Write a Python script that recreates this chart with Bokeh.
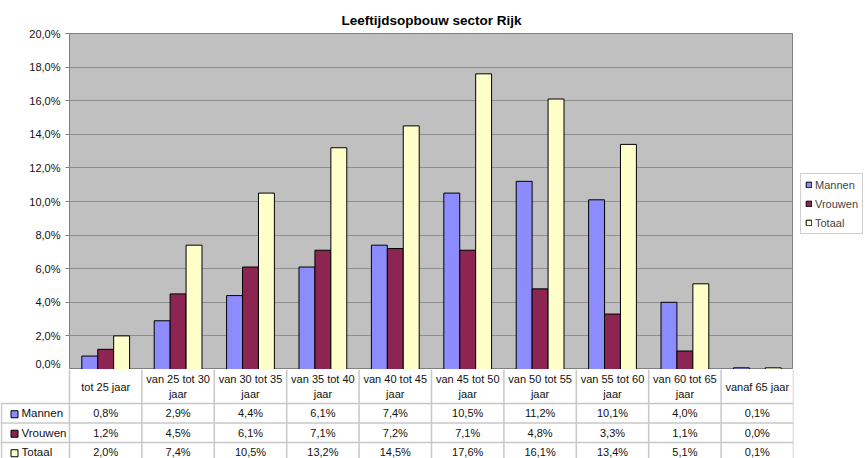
from bokeh.plotting import figure
from bokeh.models import ColumnDataSource, FactorRange, Range1d, Legend, LegendItem
from bokeh.transform import dodge
from bokeh.layouts import row
from bokeh.embed import file_html
from bokeh.resources import INLINE
from bokeh.core.properties import value

# ---------------- data ----------------
categories = ["tot 25 jaar", "van 25 tot 30\njaar", "van 30 tot 35\njaar",
              "van 35 tot 40\njaar", "van 40 tot 45\njaar", "van 45 tot 50\njaar",
              "van 50 tot 55\njaar", "van 55 tot 60\njaar", "van 60 tot 65\njaar",
              "vanaf 65 jaar"]
series_names = ["Mannen", "Vrouwen", "Totaal"]
mannen = [0.8, 2.9, 4.4, 6.1, 7.4, 10.5, 11.2, 10.1, 4.0, 0.1]
vrouwen = [1.2, 4.5, 6.1, 7.1, 7.2, 7.1, 4.8, 3.3, 1.1, 0.0]
totaal = [2.0, 7.4, 10.5, 13.2, 14.5, 17.6, 16.1, 13.4, 5.1, 0.1]
y_ticks = [0, 2, 4, 6, 8, 10, 12, 14, 16, 18, 20]
title_text = "Leeftijdsopbouw sector Rijk"

colors = ["#8C8CFF", "#8D2553", "#FFFFCA"]
FONT = "Liberation Sans"


def pct(v):
    return f"{v:.1f}".replace(".", ",") + "%"


# ---------------- layout constants ----------------
LEFT = 69          # label column / y-axis area width
FRAME_W = 724
RIGHT = 72
CHART_TOP = 33
CHART_H = 336
HEADER_H = 34
ROW_H = 19.5
TABLE_H = 89
CAT_PX = FRAME_W / len(categories)

source = ColumnDataSource(dict(cat=categories, Mannen=mannen, Vrouwen=vrouwen, Totaal=totaal))

# ---------------- chart ----------------
p = figure(width=LEFT + FRAME_W, height=CHART_TOP + CHART_H,
           x_range=FactorRange(*categories), y_range=Range1d(0, 20),
           x_axis_location=None, output_backend="svg", toolbar_location=None,
           min_border_left=LEFT, min_border_right=0,
           min_border_top=CHART_TOP, min_border_bottom=0,
           background_fill_color="#C0C0C0", border_fill_color="white",
           outline_line_color="#808080", title=title_text)
p.title.align = "center"
p.title.text_font = FONT
p.title.text_font_size = "13.5px"
p.title.text_font_style = "bold"
p.title.text_color = "black"
p.title.standoff = 11

offsets = [-0.22, 0.0, 0.22]
for name, off, col in zip(series_names, offsets, colors):
    p.vbar(x=dodge("cat", off, range=p.x_range), top=name, width=0.22,
           source=source, fill_color=col, line_color="black", line_width=1)

p.xgrid.visible = False
p.ygrid.grid_line_color = "#8E8E8E"
p.ygrid.grid_line_width = 1
p.yaxis.ticker = y_ticks
p.yaxis.major_label_overrides = {t: pct(t) for t in y_ticks}
p.yaxis.axis_line_color = "#808080"
p.yaxis.major_tick_line_color = "#808080"
p.yaxis.major_tick_out = 4
p.yaxis.major_tick_in = 0
p.yaxis.minor_tick_line_color = None
p.yaxis.major_label_text_font = FONT
p.yaxis.major_label_text_font_size = "11px"
p.yaxis.major_label_text_color = "#111111"
p.yaxis.major_label_standoff = 5

# ---------------- legend panel ----------------
lf = figure(width=RIGHT, height=CHART_TOP + CHART_H, x_range=Range1d(0, 1), y_range=Range1d(0, 1),
            x_axis_location=None, y_axis_location=None, output_backend="svg",
            toolbar_location=None, min_border_left=0, min_border_right=0,
            min_border_top=0, min_border_bottom=0, outline_line_color=None)
lf.grid.visible = False
# legend proxies: one point each, placed outside the visible range
leg_renderers = [lf.vbar(x=[5], top=[5], bottom=[4], width=0.2, fill_color=col, line_color="black")
                 for col in colors]
legend = Legend(items=[LegendItem(label=n, renderers=[r]) for n, r in zip(series_names, leg_renderers)],
                location=(7, 135),
                label_text_font=FONT, label_text_font_size="11px",
                glyph_width=7, glyph_height=7, label_standoff=3,
                label_height=13, spacing=6, padding=4, margin=0,
                border_line_color="#A0A0A0", background_fill_color="white",
                background_fill_alpha=1.0)
lf.add_layout(legend, "center")

# ---------------- data table ----------------
x0 = -LEFT / CAT_PX
t = figure(width=LEFT + FRAME_W + RIGHT, height=TABLE_H,
           x_range=Range1d(x0, len(categories)), y_range=Range1d(TABLE_H, 0),
           x_axis_location=None, y_axis_location=None,
           output_backend="svg", toolbar_location=None,
           min_border_left=0, min_border_right=RIGHT, min_border_top=0, min_border_bottom=0,
           outline_line_color=None, background_fill_color="white")
t.grid.visible = False

grid_col = "#C8C8C8"
n = len(categories)
# vertical separators
t.segment(x0=list(range(n + 1)), y0=[0] * (n + 1), x1=list(range(n + 1)), y1=[TABLE_H] * (n + 1),
          line_color=grid_col, line_width=1.5)
t.segment(x0=[x0 + 1 / CAT_PX], y0=[HEADER_H], x1=[x0 + 1 / CAT_PX], y1=[TABLE_H],
          line_color=grid_col, line_width=1.5)
# horizontal separators
hy = [HEADER_H + k * ROW_H for k in range(3)]
t.segment(x0=[x0] * 3, y0=hy, x1=[n] * 3, y1=hy, line_color=grid_col, line_width=1.5)

centers = [i + 0.5 for i in range(n)]
t.text(x=centers, y=[HEADER_H / 2] * n, text=categories, text_align="center",
       text_baseline="middle", text_font=value(FONT), text_font_size="11px",
       text_color="#111111", text_line_height=1.3)

rows = [mannen, vrouwen, totaal]
for k, (vals, name, col) in enumerate(zip(rows, series_names, colors)):
    yc = HEADER_H + k * ROW_H + ROW_H / 2
    t.text(x=centers, y=[yc] * n, text=[pct(v) for v in vals], text_align="center",
           text_baseline="middle", text_font=value(FONT), text_font_size="11px",
           text_color="#111111")
    t.rect(x=[x0 + 14 / CAT_PX], y=[yc + 1], width=7, height=7,
           width_units="screen", height_units="screen",
           fill_color=col, line_color="black", line_width=1)
    t.text(x=[x0 + 21 / CAT_PX], y=[yc], text=[name], text_align="left",
           text_baseline="middle", text_font=value(FONT), text_font_size="11.5px",
           text_color="#111111")

open("out.html", "w").write(file_html([row(p, lf, spacing=0), t], INLINE))
